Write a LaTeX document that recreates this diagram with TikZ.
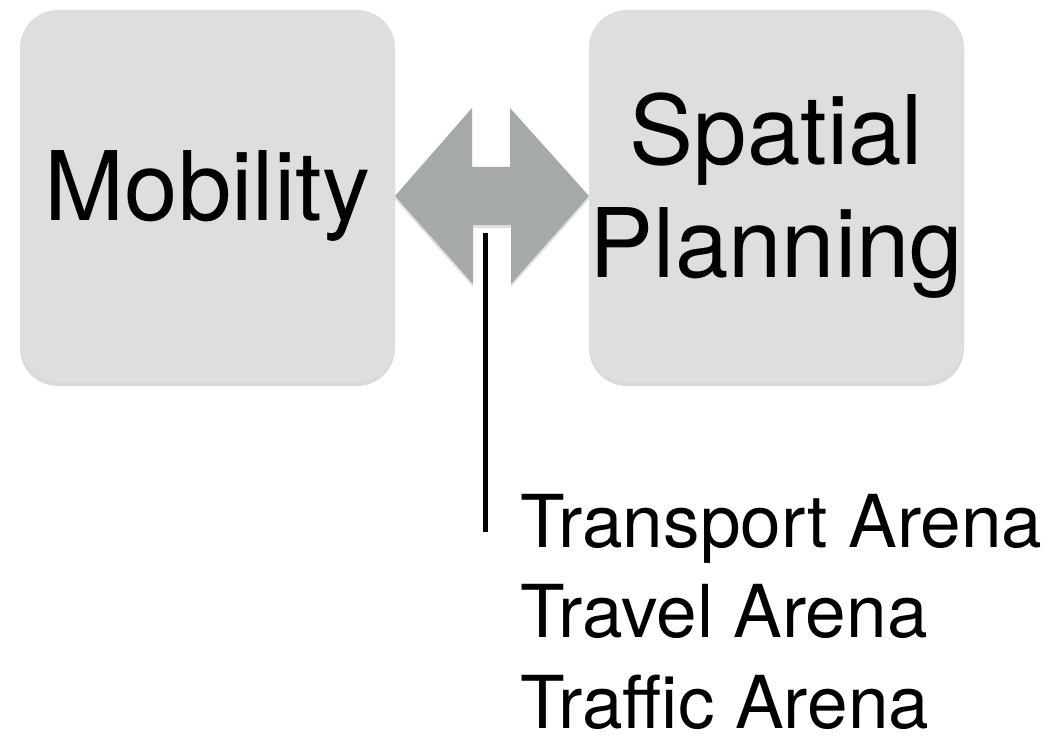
\documentclass[tikz,border=0pt]{standalone}
\usepackage{fontspec}
\setmainfont{TeX Gyre Heros}
\usepackage{tikz}
\usetikzlibrary{shadows}

\definecolor{boxgray}{RGB}{221,222,224}
\definecolor{arrowgray}{RGB}{165,169,168}

\begin{document}
\begin{tikzpicture}[x=0.5pt, y=-0.5pt,
    topic/.style={fill=boxgray, rounded corners=19pt, minimum width=187.5pt, minimum height=186pt,
      inner sep=0pt, outer sep=0pt, align=center, font=\fontsize{48}{56.5}\selectfont,
      drop shadow={shadow xshift=0pt, shadow yshift=-2pt, opacity=0.3}},
    arena/.style={anchor=base west, inner sep=0pt, font=\fontsize{36.5}{44}\selectfont}]

    \useasboundingbox (0,0) rectangle (1059,737);

    \node[topic] (mob) at (207.5, 196) {Mobility};
    \node[topic] (spa) at (776.5, 196) {Spatial\\Planning};

    \node[arena] (transport) at (520, 547) {Transport Arena};
    \node[arena] (travel) at (520, 637) {Travel Arena};
    \node[arena] (traffic) at (520, 728) {Traffic Arena};

    \coordinate (hook) at (485, 233);
    \coordinate (foot) at (485, 532);

    % double arrow between the two topics
    \fill[arrowgray, drop shadow={shadow xshift=0pt, shadow yshift=-1.5pt, opacity=0.25}]
      (mob.east) -- ++(77,-88) -- ++(0,59) -- ++(38,0) -- ++(0,-59) -- (spa.west)
      -- ++(-78,88) -- ++(0,-59) -- ++(-38,0) -- ++(0,59) -- cycle;

    \draw [line width=2.5pt] (hook) -- (foot);

\end{tikzpicture}
\end{document}
